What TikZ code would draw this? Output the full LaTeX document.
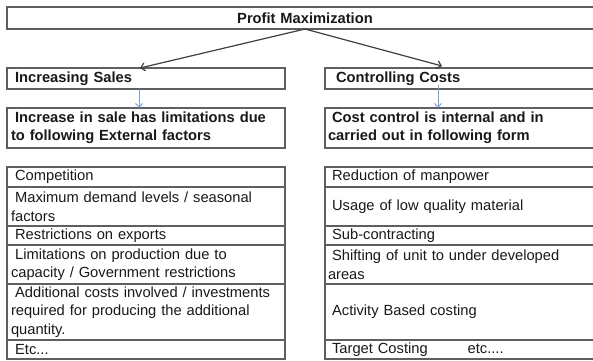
\documentclass[tikz,border=0pt]{standalone}
\usepackage{fontspec}
\setmainfont{Liberation Sans}
\usetikzlibrary{arrows.meta,calc}
\definecolor{bordercol}{RGB}{95,95,95}
\definecolor{arrowcol}{RGB}{64,64,64}
\definecolor{bluearr}{RGB}{120,160,215}
\definecolor{txtcol}{RGB}{25,25,25}
\newcommand\lsp{\hspace*{0.28em}}
\begin{document}
\begin{tikzpicture}[x=1pt,y=-1pt,
  boxnode/.style={draw=bordercol, line width=1.5pt, rectangle, inner ysep=0pt, outer sep=0pt,
    anchor=north west, align=left, text=txtcol, font=\fontsize{14.7}{18.5}\selectfont},
  lbox/.style={boxnode, inner xsep=4pt, text width=270pt},
  rbox/.style={boxnode, inner xsep=3pt, text width=272pt},
  hdr/.style={font=\fontsize{14.7}{18}\bfseries\selectfont},
  blackarrow/.style={draw=arrowcol, line width=1.2pt, -{Straight Barb[length=4pt,width=8pt]}},
  bluearrow/.style={draw=bluearr, line width=0.9pt, -{Straight Barb[length=4pt,width=7pt]}}
]
\useasboundingbox (0,0) rectangle (593,360);
\fill[white] (0,0) rectangle (593,360);
\clip (0,0) rectangle (593,360);

% top
\node[boxnode, hdr, inner xsep=4pt, text width=588pt, align=center, minimum height=22pt] (top) at (7,7) {Profit Maximization};

% headers
\node[lbox, hdr, minimum height=21pt] (incs) at (7,68) {\lsp Increasing Sales};
\node[rbox, hdr, minimum height=21pt] (ctrl) at (325,68) {\hspace*{0.55em}Controlling Costs};

% descriptions
\node[lbox, hdr, minimum height=40pt] (incdesc) at (7,108) {\lsp Increase in sale has limitations due\\to following External factors};
\node[rbox, hdr, minimum height=40pt] (ctrldesc) at (325,108) {\lsp Cost control is internal and in\\carried out in following form};

% left table
\node[lbox, minimum height=20pt] (l1) at (7,167) {\lsp Competition};
\node[lbox, minimum height=39pt] (l2) at (l1.south west) {\lsp Maximum demand levels / seasonal\\factors};
\node[lbox, minimum height=19pt] (l3) at (l2.south west) {\lsp Restrictions on exports};
\node[lbox, minimum height=39pt] (l4) at (l3.south west) {\lsp Limitations on production due to\\capacity / Government restrictions};
\node[lbox, minimum height=56pt] (l5) at (l4.south west) {\lsp Additional costs involved / investments\\required for producing the additional\\quantity.};
\node[lbox, minimum height=19pt] (l6) at (l5.south west) {\lsp Etc...};

% right table
\node[rbox, minimum height=20pt] (r1) at (325,167) {\lsp Reduction of manpower};
\node[rbox, minimum height=39pt] (r2) at (r1.south west) {\lsp Usage of low quality material};
\node[rbox, minimum height=19pt] (r3) at (r2.south west) {\lsp Sub-contracting};
\node[rbox, minimum height=39pt] (r4) at (r3.south west) {\lsp Shifting of unit to under developed\\areas};
\node[rbox, minimum height=56pt] (r5) at (r4.south west) {\lsp Activity Based costing};
\node[rbox, minimum height=19pt] (r6) at (r5.south west) {\lsp Target Costing\hspace{40pt}etc....};

% connectors
\draw[blackarrow] (top.south) -- ([xshift=-6pt]incs.north);
\draw[blackarrow] (top.south) -- ([xshift=-22pt,yshift=2pt]ctrl.north);
\draw[bluearrow] ([xshift=-7pt]incs.south) -- ([xshift=-7pt]incdesc.north);
\draw[bluearrow] ([xshift=-26pt,yshift=4pt]ctrl.south) -- ([xshift=-26pt]ctrldesc.north);
\end{tikzpicture}
\end{document}
